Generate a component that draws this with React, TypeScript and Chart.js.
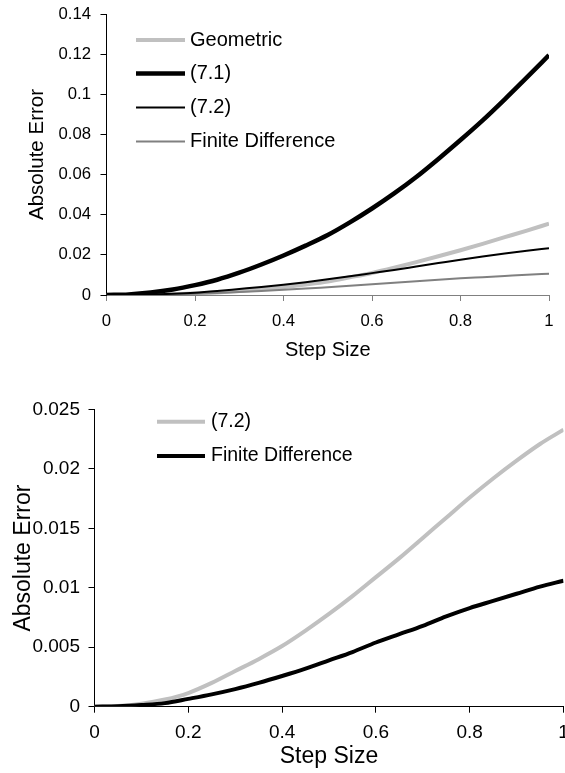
import React, { useEffect, useRef } from 'react';
import { Chart, registerables } from 'chart.js';

Chart.register(...registerables);

const FONT = '"Liberation Sans", Arial, sans-serif';

// step sizes
const xValues = [0, 0.05, 0.1, 0.15, 0.2, 0.25, 0.3, 0.35, 0.4, 0.45, 0.5, 0.55, 0.6, 0.65, 0.7, 0.75, 0.8, 0.85, 0.9, 0.95, 1];

// series values (absolute error)
const geometric = [0, 0.00002, 0.0002, 0.0004, 0.0008, 0.0013, 0.002, 0.0029, 0.0039, 0.0052, 0.0067, 0.0088, 0.011, 0.0136, 0.0164, 0.0193, 0.0223, 0.0255, 0.0288, 0.0321, 0.0355];
const eq71 = [0, 0.0003, 0.0012, 0.0027, 0.0049, 0.0076, 0.0111, 0.0152, 0.0197, 0.0246, 0.0299, 0.0362, 0.0431, 0.0506, 0.0588, 0.0678, 0.0772, 0.087, 0.0975, 0.1084, 0.1195];
const eq72 = [0, 0.00005, 0.00025, 0.0006, 0.00115, 0.002, 0.003, 0.004, 0.0051, 0.0064, 0.0078, 0.0093, 0.0109, 0.0125, 0.0142, 0.0159, 0.0176, 0.0192, 0.0207, 0.0221, 0.0233];
const finiteDiff = [0, 0.00003, 0.00014, 0.0003, 0.00066, 0.00104, 0.00148, 0.002, 0.00258, 0.0032, 0.0039, 0.0046, 0.0054, 0.0061, 0.0068, 0.0076, 0.0083, 0.0089, 0.0095, 0.0101, 0.0106];

// labels
const topSeriesLabels = ['Geometric', '(7.1)', '(7.2)', 'Finite Difference'];
const bottomSeriesLabels = ['(7.2)', 'Finite Difference'];
const xTitle = 'Step Size';
const yTitle = 'Absolute Error';

// tick values and labels
const xTickValues = [0, 0.2, 0.4, 0.6, 0.8, 1];
const xTickLabels = ['0', '0.2', '0.4', '0.6', '0.8', '1'];
const topYTickValues = [0, 0.02, 0.04, 0.06, 0.08, 0.1, 0.12, 0.14];
const topYTickLabels = ['0', '0.02', '0.04', '0.06', '0.08', '0.1', '0.12', '0.14'];
const bottomYTickValues = [0, 0.005, 0.01, 0.015, 0.02, 0.025];
const bottomYTickLabels = ['0', '0.005', '0.01', '0.015', '0.02', '0.025'];

const toPoints = (ys: number[]) => xValues.map((x, i) => ({ x, y: ys[i] }));

const inlineLegend = {
  id: 'inlineLegend',
  afterDraw(chart: any, _args: any, opts: any) {
    if (!opts || !opts.rows) return;
    const ctx = chart.ctx;
    ctx.save();
    chart.data.datasets.forEach((ds: any, i: number) => {
      const y = opts.rows[i];
      ctx.strokeStyle = ds.borderColor;
      ctx.lineWidth = ds.borderWidth;
      ctx.lineCap = 'butt';
      ctx.beginPath();
      ctx.moveTo(opts.x0, y);
      ctx.lineTo(opts.x1, y);
      ctx.stroke();
      ctx.fillStyle = '#000';
      ctx.font = `${opts.fontSize}px ${FONT}`;
      ctx.textBaseline = 'middle';
      ctx.textAlign = 'left';
      ctx.fillText(ds.label, opts.textX, y);
    });
    ctx.restore();
  },
};

function fixSize(prop: 'width' | 'height', size: number) {
  return (s: any) => {
    s[prop] = size;
    s.paddingLeft = 0;
    s.paddingRight = 0;
    s.paddingTop = 0;
    s.paddingBottom = 0;
  };
}

function setTicks(values: number[]) {
  return (s: any) => {
    s.ticks = values.map((v) => ({ value: v }));
  };
}

interface AxisSpec {
  yMax: number;
  yTickValues: number[];
  yTickLabels: string[];
  yWidth: number;
  xHeight: number;
  tickFont: number;
  titleFontX: number;
  titleFontY: number;
  yTickPad: number;
  xTickPad: number;
  yTitlePad: number;
  xTitlePad: number;
  xAxisColor: string;
  padding: { top: number; right: number; left: number; bottom: number };
}

function buildOptions(spec: AxisSpec, legend: any) {
  return {
    responsive: false,
    animation: false as const,
    devicePixelRatio: 1,
    layout: { padding: spec.padding },
    plugins: {
      legend: { display: false },
      tooltip: { enabled: false },
      title: { display: false },
      inlineLegend: legend,
    },
    elements: { point: { radius: 0 }, line: { borderJoinStyle: 'round' as const } },
    scales: {
      x: {
        type: 'linear' as const,
        position: 'bottom' as const,
        min: 0,
        max: 1,
        afterFit: fixSize('height', spec.xHeight),
        afterBuildTicks: setTicks(xTickValues),
        ticks: {
          callback: (_v: any, i: number) => xTickLabels[i],
          font: { family: FONT, size: spec.tickFont },
          color: '#000',
          padding: spec.xTickPad,
          autoSkip: false,
          maxRotation: 0,
        },
        grid: { drawOnChartArea: false, drawTicks: true, tickLength: 6, color: spec.xAxisColor },
        border: { display: true, color: spec.xAxisColor, width: 1 },
        title: {
          display: true,
          text: xTitle,
          color: '#000',
          font: { family: FONT, size: spec.titleFontX },
          padding: { top: 0, bottom: spec.xTitlePad },
        },
      },
      y: {
        type: 'linear' as const,
        position: 'left' as const,
        min: 0,
        max: spec.yMax,
        afterFit: fixSize('width', spec.yWidth),
        afterBuildTicks: setTicks(spec.yTickValues),
        ticks: {
          callback: (_v: any, i: number) => spec.yTickLabels[i],
          font: { family: FONT, size: spec.tickFont },
          color: '#000',
          padding: spec.yTickPad,
          autoSkip: false,
        },
        grid: { drawOnChartArea: false, drawTicks: true, tickLength: 6, color: '#000' },
        border: { display: true, color: '#000', width: 1 },
        title: {
          display: true,
          text: yTitle,
          color: '#000',
          font: { family: FONT, size: spec.titleFontY },
          padding: { top: spec.yTitlePad, bottom: 0 },
        },
      },
    },
  };
}

export default function App() {
  const topRef = useRef<HTMLCanvasElement>(null);
  const botRef = useRef<HTMLCanvasElement>(null);

  useEffect(() => {
    const top = new Chart(topRef.current!, {
      type: 'line',
      data: {
        datasets: [
          { label: topSeriesLabels[0], data: toPoints(geometric), borderColor: '#C0C0C0', borderWidth: 4, order: 4, cubicInterpolationMode: 'monotone' },
          { label: topSeriesLabels[1], data: toPoints(eq71), borderColor: '#000000', borderWidth: 4.5, order: 1, cubicInterpolationMode: 'monotone' },
          { label: topSeriesLabels[2], data: toPoints(eq72), borderColor: '#000000', borderWidth: 2, order: 2, cubicInterpolationMode: 'monotone' },
          { label: topSeriesLabels[3], data: toPoints(finiteDiff), borderColor: '#808080', borderWidth: 2, order: 3, cubicInterpolationMode: 'monotone' },
        ],
      },
      options: buildOptions(
        {
          yMax: 0.14,
          yTickValues: topYTickValues,
          yTickLabels: topYTickLabels,
          yWidth: 106.5,
          xHeight: 85,
          tickFont: 16.7,
          titleFontX: 20,
          titleFontY: 20.5,
          yTickPad: 9.5,
          xTickPad: 10,
          yTitlePad: 24.7,
          xTitlePad: 18,
          xAxisColor: '#808080',
          padding: { top: 14, right: 16, left: 0, bottom: 0 },
        },
        { rows: [40, 73.5, 107.5, 141.5], x0: 136, x1: 185, textX: 190, fontSize: 20 }
      ) as any,
      plugins: [inlineLegend],
    });

    const bottom = new Chart(botRef.current!, {
      type: 'line',
      data: {
        datasets: [
          { label: bottomSeriesLabels[0], data: toPoints(eq72), borderColor: '#C0C0C0', borderWidth: 4, order: 2, cubicInterpolationMode: 'monotone' },
          { label: bottomSeriesLabels[1], data: toPoints(finiteDiff), borderColor: '#000000', borderWidth: 4, order: 1, cubicInterpolationMode: 'monotone' },
        ],
      },
      options: buildOptions(
        {
          yMax: 0.025,
          yTickValues: bottomYTickValues,
          yTickLabels: bottomYTickLabels,
          yWidth: 94.5,
          xHeight: 66.3,
          tickFont: 19,
          titleFontX: 23,
          titleFontY: 23,
          yTickPad: 8.5,
          xTickPad: 9,
          yTitlePad: 9.7,
          xTitlePad: 2.2,
          xAxisColor: '#000',
          padding: { top: 29.5, right: 1.5, left: 0, bottom: 0 },
        },
        { rows: [41.7, 76], x0: 157, x1: 205, textX: 211, fontSize: 19.5 }
      ) as any,
      plugins: [inlineLegend],
    });

    return () => {
      top.destroy();
      bottom.destroy();
    };
  }, []);

  return (
    <div style={{ position: 'absolute', left: 0, top: 0, width: 565, height: 773, background: '#fff', overflow: 'hidden' }}>
      <canvas ref={topRef} width={565} height={380} style={{ position: 'absolute', left: 0, top: 0 }} />
      <canvas ref={botRef} width={565} height={393} style={{ position: 'absolute', left: 0, top: 380 }} />
    </div>
  );
}
